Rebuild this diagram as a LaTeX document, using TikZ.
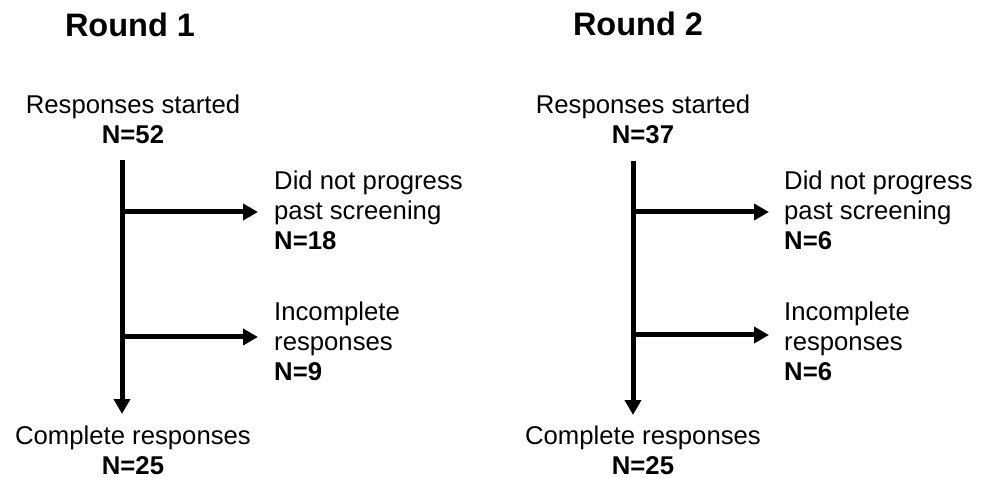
\documentclass[tikz,border=0pt]{standalone}
\usepackage{fontspec}
\setmainfont{Liberation Sans}
\usetikzlibrary{arrows.meta}
\begin{document}
\begin{tikzpicture}[x=1pt,y=-1pt,
 lbl/.style={inner sep=0pt, font=\fontsize{25.7}{30}\selectfont},
 num/.style={inner sep=0pt, font=\fontsize{25.7}{30}\selectfont\bfseries},
 ttl/.style={inner sep=0pt, font=\fontsize{32.5}{38}\selectfont\bfseries},
 flow/.style={line width=5pt, -{Triangle[length=15pt,width=16pt]}}]
\useasboundingbox (0,0) rectangle (988,478);
% ---------- Round 1 ----------
\node[ttl, anchor=base] (t1) at (130,37) {Round 1};
\node[lbl, anchor=base] (s1) at (133,114) {Responses started};
\node[num, anchor=base] (s1n) at (133,144) {N=52};
\node[lbl, anchor=base west] (d1a) at (274,190) {Did not progress};
\node[lbl, anchor=base west] (d1b) at (274,220) {past screening};
\node[num, anchor=base west] (d1n) at (274,250) {N=18};
\node[lbl, anchor=base west] (i1a) at (274,320) {Incomplete};
\node[lbl, anchor=base west] (i1b) at (274,350) {responses};
\node[num, anchor=base west] (i1n) at (274,380) {N=9};
\node[lbl, anchor=base] (c1) at (133,444) {Complete responses};
\node[num, anchor=base] (c1n) at (133,474) {N=25};
\coordinate (v1t) at (122,160);
\coordinate (v1b) at (122,414);
\coordinate (b1s) at (122,212);
\coordinate (b1e) at (258,212);
\coordinate (b2s) at (122,337);
\coordinate (b2e) at (258,337);
\draw[flow] (v1t) -- (v1b);
\draw[flow] (b1s) -- (b1e);
\draw[flow] (b2s) -- (b2e);
% ---------- Round 2 ----------
\node[ttl, anchor=base] (t2) at (638,36) {Round 2};
\node[lbl, anchor=base] (s2) at (643,114) {Responses started};
\node[num, anchor=base] (s2n) at (643,144) {N=37};
\node[lbl, anchor=base west] (d2a) at (784,190) {Did not progress};
\node[lbl, anchor=base west] (d2b) at (784,220) {past screening};
\node[num, anchor=base west] (d2n) at (784,250) {N=6};
\node[lbl, anchor=base west] (i2a) at (784,320) {Incomplete};
\node[lbl, anchor=base west] (i2b) at (784,350) {responses};
\node[num, anchor=base west] (i2n) at (784,380) {N=6};
\node[lbl, anchor=base] (c2) at (643,444) {Complete responses};
\node[num, anchor=base] (c2n) at (643,474) {N=25};
\coordinate (v2t) at (633,161);
\coordinate (v2b) at (633,415);
\coordinate (b3s) at (633,212);
\coordinate (b3e) at (769,212);
\coordinate (b4s) at (633,335);
\coordinate (b4e) at (769,335);
\draw[flow] (v2t) -- (v2b);
\draw[flow] (b3s) -- (b3e);
\draw[flow] (b4s) -- (b4e);
\end{tikzpicture}
\end{document}
